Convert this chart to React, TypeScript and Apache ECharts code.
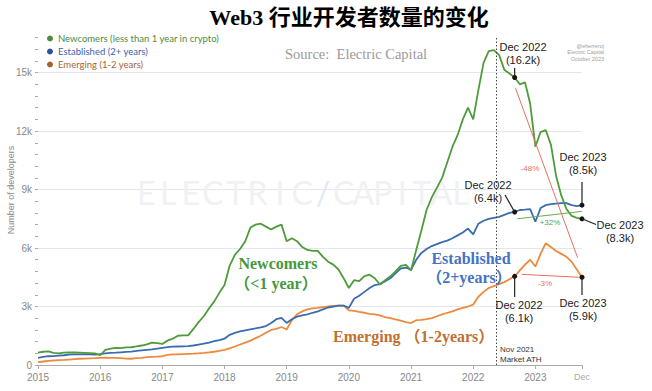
import React, { useEffect, useRef } from "react";
import * as echarts from "echarts";

// ---------- data (thousands of developers, monthly from Jan 2015) ----------
const START_YEAR = 2015;
const X_MAX = 2023.75;
const X_END_LABEL = "Dec";
const Y_MAX = 16800;
const Y_STEP = 600;
const Y_LABEL_STEP = 3000;
const Y_NAME = "Number of developers";
const MARKET_ATH_X = 2022.37;
const DEC22_IDX = 92;

const seriesNames = [
  "Newcomers (less than 1 year in crypto)",
  "Established (2+ years)",
  "Emerging (1-2 years)",
];

const newcomers = [
  0.63, 0.68, 0.7, 0.62, 0.6, 0.63, 0.65, 0.64, 0.63, 0.62, 0.61, 0.6,
  0.5, 0.78, 0.84, 0.88, 0.87, 0.9, 0.91, 0.95, 1.0, 1.06, 1.15, 1.12,
  1.08, 1.25, 1.35, 1.5, 1.52, 1.52, 1.85, 2.2, 2.5, 2.9, 3.25, 3.7,
  4.1, 5.1, 5.65, 5.95, 6.35, 7.05, 7.2, 7.25, 7.1, 6.95, 7.1, 7.2,
  6.35, 6.5, 6.35, 6.05, 5.9, 5.85, 5.85, 5.55, 5.3, 5.15, 4.9, 4.45,
  3.95, 4.35, 4.3, 4.56, 4.63, 4.45, 4.13, 4.35, 4.55, 4.8, 5.08, 5.14,
  4.85, 5.9, 6.9, 7.95, 8.6, 9.1, 9.6, 10.4, 11.2, 11.8, 12.6, 13.2,
  12.6, 14.1, 15.5, 16.1, 16.15, 15.9, 15.15, 14.95, 14.75, 14.4, 14.5, 13.4,
  11.2, 11.95, 12.05, 11.3, 9.7, 8.7, 8.0, 7.65, 7.55, 7.5,
];

const established = [
  0.37, 0.42, 0.45, 0.46, 0.48, 0.5, 0.53, 0.54, 0.55, 0.55, 0.54, 0.53,
  0.56, 0.6, 0.62, 0.63, 0.65, 0.67, 0.69, 0.72, 0.75, 0.78, 0.8, 0.84,
  0.88, 0.92, 0.94, 0.95, 0.96, 0.97, 1.0, 1.05, 1.1, 1.15, 1.22, 1.28,
  1.35, 1.55, 1.65, 1.72, 1.78, 1.83, 1.88, 1.93, 2.0, 2.15, 2.35, 2.42,
  2.16, 2.35, 2.48, 2.55, 2.6, 2.68, 2.75, 2.85, 2.95, 3.0, 3.05, 3.05,
  2.93, 3.4, 3.55, 3.75, 3.95, 4.1, 4.15, 4.3, 4.45, 4.7, 4.95, 5.0,
  4.88, 5.4, 5.75, 5.95, 6.1, 6.2, 6.3, 6.38, 6.5, 6.65, 6.8, 7.0,
  6.7, 7.25, 7.4, 7.5, 7.55, 7.6, 7.7, 7.8, 7.85, 7.95, 7.97, 8.0,
  7.35, 8.05, 8.2, 8.25, 8.28, 8.3, 8.3, 8.2, 8.15, 8.2,
];

const emerging = [
  0.15, 0.18, 0.21, 0.23, 0.25, 0.26, 0.28, 0.3, 0.32, 0.33, 0.34, 0.35,
  0.37, 0.38, 0.37, 0.37, 0.35, 0.33, 0.32, 0.35, 0.37, 0.4, 0.42, 0.43,
  0.45, 0.52, 0.54, 0.55, 0.56, 0.57, 0.58, 0.6, 0.62, 0.65, 0.68, 0.72,
  0.78, 0.85, 0.95, 1.05, 1.15, 1.25, 1.38, 1.5, 1.65, 1.8, 1.85, 1.95,
  1.82, 2.3, 2.6, 2.75, 2.85, 2.9, 2.93, 2.97, 3.0, 3.03, 3.05, 3.05,
  2.8, 2.78, 2.72, 2.68, 2.62, 2.6, 2.55, 2.45, 2.4, 2.34, 2.28, 2.2,
  2.15, 2.3, 2.32, 2.35, 2.4, 2.5, 2.6, 2.68, 2.75, 2.85, 2.93, 3.0,
  3.1, 3.5, 3.75, 3.95, 4.05, 4.15, 4.25, 4.4, 4.55, 4.85, 5.15, 5.4,
  5.05, 5.7, 6.25, 6.05, 5.85, 5.7, 5.55, 5.3, 4.9, 4.5,
];

// trend arrows (year, thousands)
const arrowFrom = [[2022.68, 14.2], [2022.71, 7.5], [2022.78, 4.65]];
const arrowTo = [[2023.68, 5.5], [2023.75, 7.88], [2023.7, 4.5]];
const arrowLabels = ["-48%", "+32%", "-3%"];

const watermarkWords = ["ELECTRIC", "CAPITAL"];

const GREEN = "#4f9b3b";
const BLUE = "#3b6cb0";
const ORANGE = "#ee8a3e";
const RED = "#e8705f";
const SANS = '"Liberation Sans", Arial, sans-serif';
const SERIF = '"Liberation Serif", "Noto Sans CJK SC", serif';

export default function App() {
  const ref = useRef<HTMLDivElement>(null);

  useEffect(() => {
    const el = ref.current;
    if (!el) return;
    const chart = echarts.init(el, null, { renderer: "svg" });
    const xs = newcomers.map((_, i) => START_YEAR + i / 12);
    const LAST = newcomers.length - 1;
    const toData = (arr: number[]) => arr.map((v, i) => [xs[i], v * 1000]);
    const dots = (arr: number[]) => ({
      symbol: "circle",
      symbolSize: 5,
      silent: true,
      itemStyle: { color: "#111", borderWidth: 0 },
      label: { show: false },
      data: [DEC22_IDX, LAST].map((i) => ({ coord: [xs[i], arr[i] * 1000] })),
    });
    const arrowColors = [RED, "#6aaa50", RED];

    const option: any = {
      animation: false,
      grid: { left: 38, right: 70, top: 37.5, bottom: 26, outerBoundsMode: "none", containLabel: false },
      legend: {
        orient: "vertical",
        left: 47,
        top: 32,
        padding: 0,
        icon: "circle",
        itemWidth: 6,
        itemHeight: 6,
        itemGap: 0,
        selectedMode: false,
        textStyle: { fontSize: 9.5, fontFamily: "Lato", lineHeight: 13 },
        data: [
          { name: seriesNames[0], itemStyle: { color: "#4e8b3e" }, textStyle: { color: "#4e8b3e" } },
          { name: seriesNames[1], itemStyle: { color: "#2d50a0" }, textStyle: { color: "#3c5fb0" } },
          { name: seriesNames[2], itemStyle: { color: "#a8602c" }, textStyle: { color: "#a8642e" } },
        ],
      },
      xAxis: {
        type: "value",
        min: START_YEAR,
        max: X_MAX,
        interval: 1,
        axisLine: { show: true, lineStyle: { color: "#aaa" } },
        axisTick: { show: true, length: 4, lineStyle: { color: "#aaa" } },
        splitLine: { show: false },
        axisLabel: {
          color: "#888",
          fontSize: 10,
          fontFamily: SANS,
          margin: 7,
          showMaxLabel: true,
          formatter: (v: number) =>
            Math.abs(v - X_MAX) < 1e-6 ? `{d|${X_END_LABEL}}` : String(Math.round(v)),
          rich: { d: { color: "#aaa", fontSize: 9, fontFamily: SANS } },
        },
      },
      yAxis: {
        type: "value",
        min: 0,
        max: Y_MAX,
        interval: Y_STEP,
        axisLine: { show: false },
        axisTick: { show: true, length: 3, lineStyle: { color: "#aaa" } },
        axisLabel: {
          color: "#888",
          fontSize: 10,
          fontFamily: SANS,
          margin: 6,
          formatter: (v: number) =>
            v === 0 ? "0" : v % Y_LABEL_STEP === 0 ? `${v / 1000}k` : "",
        },
        splitLine: {
          show: true,
          lineStyle: {
            color: ["#e3e5ef", "rgba(0,0,0,0)", "rgba(0,0,0,0)", "rgba(0,0,0,0)", "rgba(0,0,0,0)"],
            width: 1,
          },
        },
      },
      series: [
        {
          name: seriesNames[2],
          type: "line",
          showSymbol: false,
          color: ORANGE,
          lineStyle: { width: 1.8, color: ORANGE },
          data: toData(emerging),
          markPoint: dots(emerging),
          markLine: {
            silent: true,
            symbol: ["none", "none"],
            label: { show: false },
            lineStyle: { type: [1.5, 2], color: "#444", width: 1 },
            data: [{ xAxis: MARKET_ATH_X }],
          },
        },
        {
          name: seriesNames[1],
          type: "line",
          showSymbol: false,
          color: BLUE,
          lineStyle: { width: 1.8, color: BLUE },
          data: toData(established),
          markPoint: dots(established),
        },
        {
          name: seriesNames[0],
          type: "line",
          showSymbol: false,
          color: GREEN,
          lineStyle: { width: 1.8, color: GREEN },
          data: toData(newcomers),
          markPoint: dots(newcomers),
          markLine: {
            silent: true,
            symbol: ["none", "arrow"],
            symbolSize: [0, 6],
            label: { show: false },
            data: arrowFrom.map((f, k) => [
              { coord: [f[0], f[1] * 1000], lineStyle: { color: arrowColors[k], width: 1, type: "solid" } },
              { coord: [arrowTo[k][0], arrowTo[k][1] * 1000], lineStyle: { color: arrowColors[k], width: 1, type: "solid" } },
            ]),
          },
        },
      ],
    };
    chart.setOption(option);

    const px = (arr: number[], i: number) =>
      chart.convertToPixel({ xAxisIndex: 0, yAxisIndex: 0 }, [xs[i], arr[i] * 1000]) as number[];

    const txt = (text: string, x: number, y: number, o: any) => ({
      type: "text",
      z: o.z ?? 20,
      silent: true,
      style: {
        text,
        x,
        y,
        align: o.align || "left",
        textAlign: o.align || "left",
        verticalAlign: o.v || "middle",
        textVerticalAlign: o.v || "middle",
        fill: o.color || "#222",
        fontSize: o.size || 11,
        fontFamily: o.family || SANS,
        fontWeight: o.weight || "normal",
        lineHeight: o.lh,
      },
    });
    const line = (a: number[], b: number[]) => ({
      type: "line",
      z: 20,
      silent: true,
      shape: { x1: a[0], y1: a[1], x2: b[0], y2: b[1] },
      style: { stroke: "#222", lineWidth: 1.2 },
    });

    const g22 = px(newcomers, DEC22_IDX);
    const gEnd = px(newcomers, LAST);
    const b22 = px(established, DEC22_IDX);
    const bEnd = px(established, LAST);
    const o22 = px(emerging, DEC22_IDX);
    const oEnd = px(emerging, LAST);

    const big = { size: 16, weight: "bold", family: SERIF, align: "center" };
    const ann = { size: 11, align: "center", v: "top", lh: 13.5, color: "#222" };
    const wm = { size: 32, family: "Lato", color: "#f0f1f4", z: 0, align: "center" };

    const watermark: any[] = [];
    watermarkWords[0].split("").forEach((ch, i) =>
      watermark.push(txt(ch, 135 + 22.3 * (i + 0.5), 192, wm))
    );
    watermarkWords[1].split("").forEach((ch, i) =>
      watermark.push(txt(ch, 334 + 19.5 * (i + 0.5), 192, wm))
    );
    watermark.push(txt("/", 323, 192, { ...wm, color: "#dfeaf6" }));

    const yName = {
      type: "text",
      x: 11,
      y: 190,
      rotation: Math.PI / 2,
      silent: true,
      z: 20,
      style: {
        text: Y_NAME,
        x: 0,
        y: 0,
        align: "center",
        textAlign: "center",
        verticalAlign: "middle",
        textVerticalAlign: "middle",
        fill: "#888",
        fontSize: 9,
        fontFamily: SANS,
      },
    };

    const graphic: any[] = [
      ...watermark,
      yName,
      // title & source
      txt("Web3 行业开发者数量的变化", 349, 17, { size: 22, weight: "bold", family: SERIF, align: "center", color: "#000" }),
      txt("Source:  Electric Capital", 285, 54, { size: 14.5, family: SERIF, color: "#9a9a9a" }),
      txt("@eherreroj", 604, 45.7, { size: 5.5, align: "right", color: "#a0a0a0" }),
      txt("Electric Capital", 604, 52.3, { size: 5.5, align: "right", color: "#a0a0a0" }),
      txt("October 2023", 604, 59, { size: 5.5, align: "right", color: "#a0a0a0" }),
      // series labels
      txt("Newcomers", 278, 263.5, { ...big, color: "#45993a" }),
      txt("（<1 year）", 276, 283.5, { ...big, color: "#45993a" }),
      txt("Established", 471, 258.5, { ...big, color: "#4472c4" }),
      txt("（2+years）", 469, 277, { ...big, color: "#4472c4" }),
      txt("Emerging （1-2years）", 333, 336.5, { ...big, align: "left", color: "#c0702f" }),
      // market ATH
      txt("Nov 2021\nMarket ATH", 500, 354.5, { size: 8, lh: 9.5, color: "#333" }),
      // percentages
      txt(arrowLabels[0], 530, 168, { size: 8, align: "center", color: RED }),
      txt(arrowLabels[1], 550, 222.7, { size: 8, align: "center", color: "#5aa04a" }),
      txt(arrowLabels[2], 545, 283, { size: 8, align: "center", color: RED }),
      // annotations
      txt("Dec 2022\n(16.2k)", 523, 40, ann),
      line([g22[0], 68], g22),
      txt("Dec 2023\n(8.5k)", 583, 150, ann),
      line([bEnd[0], 182], bEnd),
      txt("Dec 2022\n(6.4k)", 488, 178, ann),
      line([505, 195], b22),
      txt("Dec 2023\n(8.3k)", 620, 218, ann),
      line(gEnd, [596, 224.5]),
      txt("Dec 2022\n(6.1k)", 519, 298, ann),
      line(o22, [o22[0], 297]),
      txt("Dec 2023\n(5.9k)", 583, 296, ann),
      line(oEnd, [oEnd[0], 295]),
    ];
    chart.setOption({ graphic });

    return () => chart.dispose();
  }, []);

  return (
    <div
      ref={ref}
      style={{ position: "fixed", left: 0, top: 0, width: 652, height: 391, background: "#fff" }}
    />
  );
}
